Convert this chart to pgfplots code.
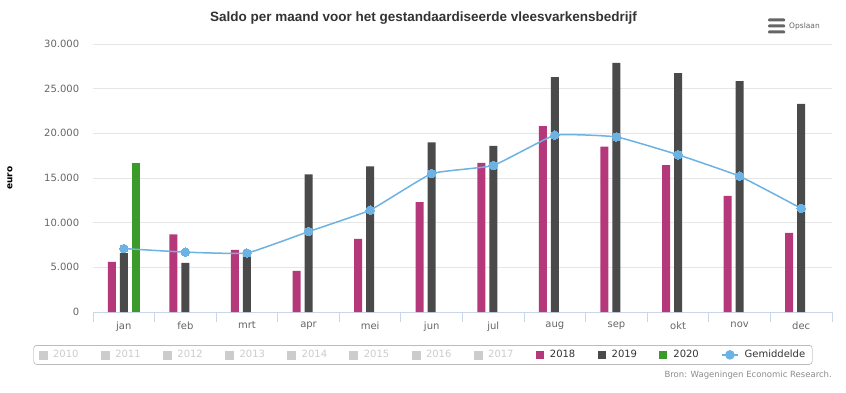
\documentclass[border=0pt]{standalone}
\usepackage{fontspec}
\setmainfont{DejaVu Sans}
\newfontfamily\titlefont{Liberation Sans}
\usepackage{pgfplots}
\pgfplotsset{compat=1.18}
\definecolor{c18}{HTML}{B5397A}
\definecolor{c19}{HTML}{4A4A4A}
\definecolor{c20}{HTML}{3A9A2A}
\definecolor{cavg}{HTML}{6CB2E2}
\definecolor{cgray}{HTML}{CCCCCC}
\definecolor{caxis}{HTML}{CCD6EB}
\definecolor{cgrid}{HTML}{E6E6E6}
\definecolor{ctext}{HTML}{666666}
\definecolor{cdark}{HTML}{333333}
\pgfplotsset{sq/.style={legend image code/.code={\fill[#1, sharp corners] (0pt,-4pt) rectangle (8pt,4pt);}}}
\begin{document}
\begin{tikzpicture}[x=1pt,y=1pt]
\path[use as bounding box] (0,0) rectangle (846,392);
\fill[white] (0,0) rectangle (846,392);
\begin{axis}[
  at={(93pt,80pt)}, anchor=south west, scale only axis,
  width=739pt, height=268pt,
  xmin=-0.5, xmax=11.5, ymin=0, ymax=30000,
  axis x line*=bottom, axis y line*=left,
  x axis line style={caxis, line width=1pt},
  y axis line style={draw=none},
  xtick={0,...,11},
  xticklabels={jan,feb,mrt,apr,mei,jun,jul,aug,sep,okt,nov,dec},
  major x tick style={draw=none},
  minor xtick={-0.5,0.5,...,11.5},
  minor x tick style={caxis, line width=1pt},
  minor tick length=10pt, tick align=outside,
  ytick={0,5000,...,30000},
  ymajorgrids, major y grid style={cgrid, line width=0.8pt},
  major y tick style={draw=none},
  scaled y ticks=false,
  /pgf/number format/.cd, fixed, 1000 sep={.}, assume math mode=true, /pgfplots/.cd,
  ticklabel style={font=\fontsize{10}{12}\selectfont, text=ctext},
  xticklabel style={yshift=-2pt},
  yticklabel style={xshift=-6pt},
  ylabel={\bfseries euro},
  every axis y label/.append style={at={(rel axis cs:0,0.5)}, anchor=center, yshift=83pt, font=\fontsize{9}{11}\selectfont, text=black},
  legend columns=12,
  legend cell align=left,
  legend style={at={(rel axis cs:0.4465,-0.16)}, anchor=center, draw=black!40, rounded corners=3pt,
    font=\fontsize{10}{12}\selectfont, text=cdark, inner xsep=5pt, inner ysep=3pt,
    /tikz/every odd column/.append style={column sep=4pt},
    /tikz/every even column/.append style={column sep=20.3pt}},
]
\addlegendimage{sq=cgray}\addlegendentry{\textcolor{cgray}{2010}}
\addlegendimage{sq=cgray}\addlegendentry{\textcolor{cgray}{2011}}
\addlegendimage{sq=cgray}\addlegendentry{\textcolor{cgray}{2012}}
\addlegendimage{sq=cgray}\addlegendentry{\textcolor{cgray}{2013}}
\addlegendimage{sq=cgray}\addlegendentry{\textcolor{cgray}{2014}}
\addlegendimage{sq=cgray}\addlegendentry{\textcolor{cgray}{2015}}
\addlegendimage{sq=cgray}\addlegendentry{\textcolor{cgray}{2016}}
\addlegendimage{sq=cgray}\addlegendentry{\textcolor{cgray}{2017}}
\addplot[ybar, bar width=8pt, bar shift=-12pt, fill=c18, draw=none, sq=c18] coordinates {
 (0,5600) (1,8700) (2,6950) (3,4600) (4,8200) (5,12300) (6,16700) (7,20800) (8,18500) (9,16450) (10,13000) (11,8850)};
\addlegendentry{2018}
\addplot[ybar, bar width=8pt, bar shift=0pt, fill=c19, draw=none, sq=c19] coordinates {
 (0,6600) (1,5500) (2,6750) (3,15400) (4,16300) (5,19000) (6,18600) (7,26300) (8,27900) (9,26750) (10,25850) (11,23300)};
\addlegendentry{2019}
\addplot[ybar, bar width=8pt, bar shift=12pt, fill=c20, draw=none, sq=c20] coordinates {
 (0,16700)};
\addlegendentry{2020}
\addplot[cavg, line width=1.5pt, smooth, tension=0.2, mark=*, mark size=4.3pt, mark options={fill=cavg, draw=cavg, line width=0pt},
  legend image code/.code={\draw[cavg, line width=1.5pt, sharp corners] (0pt,0pt) -- (16pt,0pt); \fill[cavg] (8pt,0pt) circle (4pt);}] coordinates {
 (0,7100) (1,6700) (2,6600) (3,9000) (4,11400) (5,15500) (6,16400) (7,19800) (8,19600) (9,17600) (10,15200) (11,11600)};
\addlegendentry{Gemiddelde}
\end{axis}
\node[text=cdark, font=\titlefont\bfseries\fontsize{13.5}{16}\selectfont] at (423.5,374) {Saldo per maand voor het gestandaardiseerde vleesvarkensbedrijf};
\node[anchor=east, inner sep=0pt, text=black!45, font=\fontsize{8.5}{10}\selectfont] at (832,17) {Bron: Wageningen Economic Research.};
\foreach \yy in {372,366,360}{\fill[ctext, rounded corners=1pt] (768,\yy-1.5) rectangle (785,\yy+1.5);}
\node[anchor=west, inner sep=0pt, text=ctext, font=\fontsize{7.5}{9}\selectfont] at (789,366) {Opslaan};
\end{tikzpicture}
\end{document}
